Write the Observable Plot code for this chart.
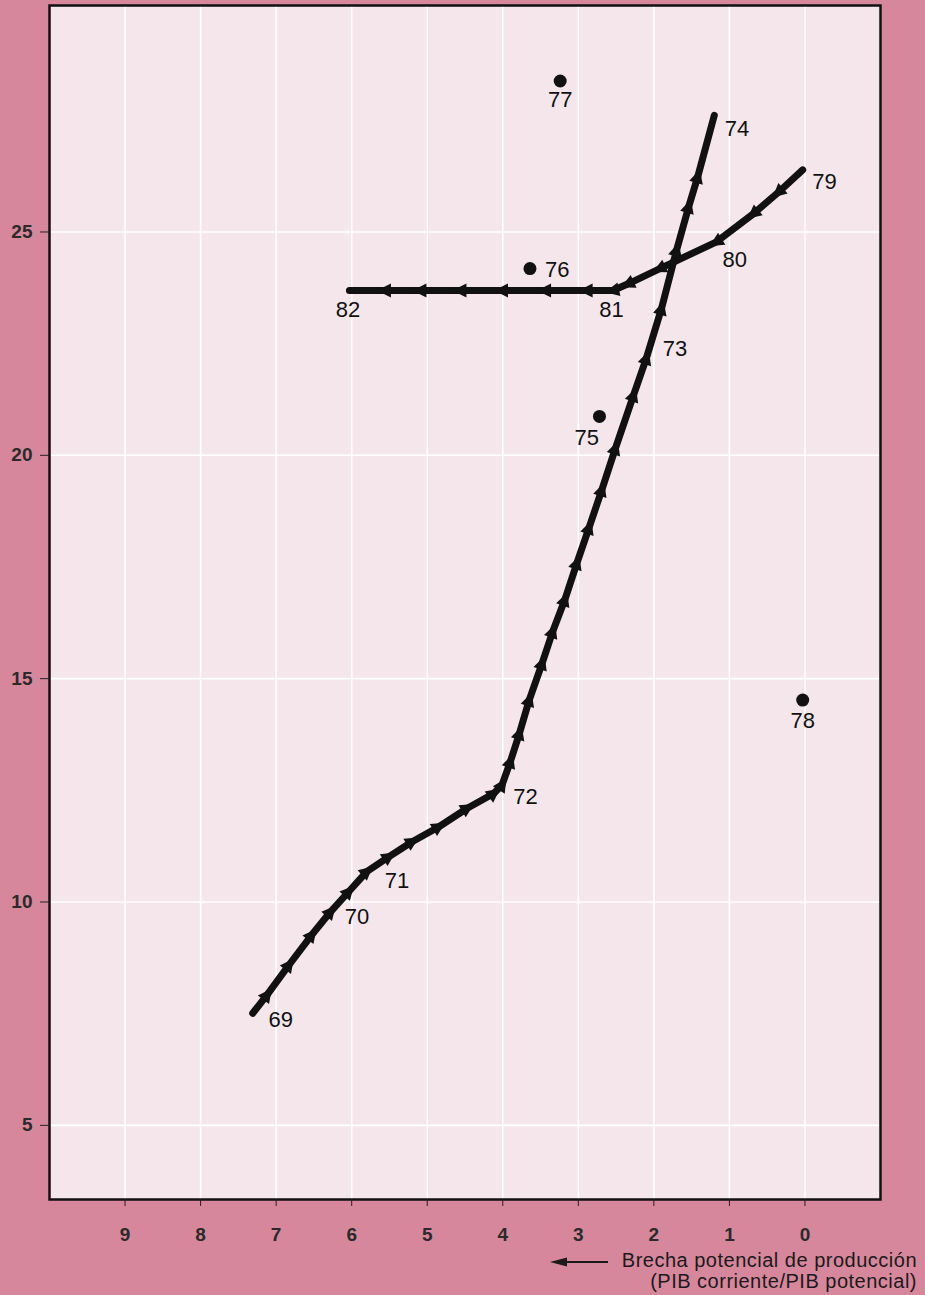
<!DOCTYPE html>
<html>
<head>
<meta charset="utf-8">
<script src="https://cdn.jsdelivr.net/npm/d3@7"></script>
<script src="https://cdn.jsdelivr.net/npm/@observablehq/plot@0.6"></script>
<style>
  html, body { margin: 0; padding: 0; background: #d7879c; }
  #wrap { position: relative; width: 925px; height: 1295px; overflow: hidden; }
  #chart svg { display: block; }
  .caption { position: absolute; right: 8px; font-family: "Liberation Sans", Arial, sans-serif; font-size: 20px; letter-spacing: 0.5px; color: #1a1a1a; text-align: right; white-space: nowrap; line-height: 21px; }
</style>
</head>
<body>
<div id="wrap">
  <div id="chart"></div>
  <div class="caption" style="top:1250px;"><svg width="58" height="12" style="vertical-align:middle;margin-right:14px"><line x1="14" y1="6" x2="58" y2="6" stroke="#1a1a1a" stroke-width="2"/><path d="M0,6 L17,1.5 L17,10.5 Z" fill="#1a1a1a"/></svg>Brecha potencial de producción</div>
  <div class="caption" style="top:1271px;">(PIB corriente/PIB potencial)</div>
</div>
<script>
// ---- data ----
// main path 1969 -> 1974
const path1X = [7.31, 7.12, 6.83, 6.53, 6.28, 6.04, 5.80, 5.51, 5.20, 4.85, 4.47, 4.12, 4.01, 3.90, 3.78, 3.65, 3.48, 3.34, 3.18, 3.02, 2.86, 2.69, 2.51, 2.27, 2.10, 1.90, 1.70, 1.54, 1.42, 1.20];
const path1Y = [7.51, 7.92, 8.59, 9.26, 9.78, 10.23, 10.68, 11.01, 11.35, 11.68, 12.10, 12.43, 12.62, 13.14, 13.77, 14.52, 15.34, 16.05, 16.76, 17.58, 18.37, 19.22, 20.15, 21.34, 22.17, 23.28, 24.59, 25.56, 26.23, 27.61];
// second path 1979 -> 1982
const path2X = [0.03, 0.35, 0.68, 1.17, 1.92, 2.34, 2.54, 2.89, 3.44, 4.01, 4.56, 5.09, 5.56, 6.03];
const path2Y = [26.39, 25.89, 25.41, 24.78, 24.18, 23.84, 23.69, 23.69, 23.69, 23.69, 23.69, 23.69, 23.69, 23.69];
// isolated years
const dotYears = ["75", "76", "77", "78"];
const dotX = [2.72, 3.64, 3.24, 0.03];
const dotY = [20.87, 24.18, 28.38, 14.52];
// year labels (label centres, data units)
const labelYears = ["69", "70", "71", "72", "73", "74", "75", "76", "77", "78", "79", "80", "81", "82"];
const labelX = [6.94, 5.93, 5.40, 3.70, 1.72, 0.90, 2.89, 3.28, 3.24, 0.03, -0.26, 0.93, 2.56, 6.05];
const labelY = [7.36, 9.66, 10.47, 12.36, 22.39, 27.31, 20.38, 24.14, 27.95, 14.06, 26.12, 24.37, 23.25, 23.25];
// axes
const xTicks = [9, 8, 7, 6, 5, 4, 3, 2, 1, 0];
const yTicks = [5, 10, 15, 20, 25];
const xDomain = [10, -1];
const yDomain = [3.34, 30.07];

// ---- build tables ----
const path1 = path1X.map((x, i) => ({x, y: path1Y[i]}));
const path2 = path2X.map((x, i) => ({x, y: path2Y[i]}));
const dots = dotX.map((x, i) => ({x, y: dotY[i], year: dotYears[i]}));
const labels = labelX.map((x, i) => ({x, y: labelY[i], year: labelYears[i]}));

function triMarker(color) {
  const ns = "http://www.w3.org/2000/svg";
  const m = document.createElementNS(ns, "marker");
  m.setAttribute("viewBox", "-10 -10 20 20");
  m.setAttribute("markerUnits", "userSpaceOnUse");
  m.setAttribute("markerWidth", "20");
  m.setAttribute("markerHeight", "20");
  m.setAttribute("orient", "auto");
  m.setAttribute("overflow", "visible");
  const p = document.createElementNS(ns, "path");
  p.setAttribute("d", "M-6,-7 L8,0 L-6,7 Z");
  p.setAttribute("fill", "#111");
  p.setAttribute("stroke", "none");
  m.appendChild(p);
  return m;
}

const tickFont = "'Liberation Sans', Arial, sans-serif";

const chart = Plot.plot({
  width: 925,
  height: 1295,
  marginLeft: 49,
  marginRight: 45,
  marginTop: 5,
  marginBottom: 96,
  style: {background: "transparent", fontFamily: "'Liberation Sans', Arial, sans-serif", color: "#1a1a1a"},
  x: {domain: xDomain},
  y: {domain: yDomain},
  marks: [
    Plot.frame({fill: "#f5e6eb", stroke: null}),
    Plot.gridX(xTicks, {stroke: "#ffffff", strokeOpacity: 1, strokeWidth: 1.6}),
    Plot.gridY(yTicks, {stroke: "#ffffff", strokeOpacity: 1, strokeWidth: 1.6}),
    Plot.frame({stroke: "#111", strokeWidth: 2.5}),
    Plot.axisX(xTicks, {tickSize: 7, tickPadding: 21, fontSize: 19, fontWeight: "bold", fontFamily: tickFont, stroke: "#222", fill: "#2a2a2a", label: null, tickFormat: d => String(d)}),
    Plot.axisY(yTicks, {tickSize: 9, tickPadding: 8, fontSize: 19, fontWeight: "bold", fontFamily: tickFont, stroke: "#222", fill: "#2a2a2a", label: null}),
    Plot.line(path1, {x: "x", y: "y", stroke: "#111", strokeWidth: 7, strokeLinejoin: "round", markerMid: triMarker}),
    Plot.line(path2, {x: "x", y: "y", stroke: "#111", strokeWidth: 7, strokeLinejoin: "round", markerMid: triMarker}),
    Plot.dot(dots, {x: "x", y: "y", r: 6.5, fill: "#111", stroke: null}),
    Plot.text(labels, {x: "x", y: "y", text: "year", fontSize: 22, fill: "#111", textAnchor: "middle", lineAnchor: "middle"})
  ]
});
document.getElementById("chart").appendChild(chart);
</script>
</body>
</html>
